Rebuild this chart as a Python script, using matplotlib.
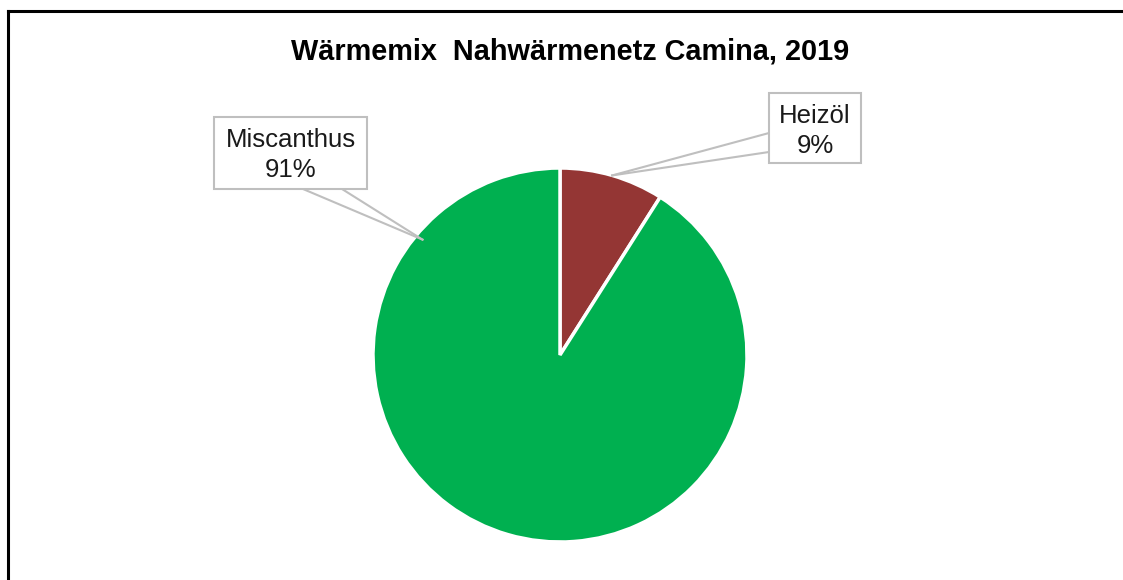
import matplotlib.pyplot as plt
from matplotlib.patches import Rectangle
from matplotlib.lines import Line2D
import numpy as np

plt.rcParams['font.family'] = ['Liberation Sans', 'DejaVu Sans']

# data
labels = ['Heizöl', 'Miscanthus']
values = [9, 91]
colors = ['#943634', '#00B050']
title = 'Wärmemix  Nahwärmenetz Camina, 2019'

W, H = 1123, 580
cx, cy, r = 560, 355, 187   # pie centre and radius in pixels

fig = plt.figure(figsize=(W / 100, H / 100), dpi=100)
ax = fig.add_axes([(cx - r) / W, (H - cy - r) / H, 2 * r / W, 2 * r / H])
wedges, _ = ax.pie(values, colors=colors, startangle=90, counterclock=False,
                   wedgeprops=dict(edgecolor='white', linewidth=2.5))
ax.set_xlim(-1, 1)
ax.set_ylim(-1, 1)
ax.axis('off')


def px(x, y):
    # pixel position -> pie data coords
    return ((x - cx) / r, (cy - y) / r)


def callout(lines, box, base, tip):
    # box = (left, top, right, bottom) in pixels, base = two points on box edge
    x0, y0 = px(box[0], box[3])
    x1, y1 = px(box[2], box[1])
    ax.add_patch(Rectangle((x0, y0), x1 - x0, y1 - y0, facecolor='white',
                           edgecolor='#BFBFBF', linewidth=1.5, clip_on=False, zorder=5))
    for b in base:
        bx, by = px(*b)
        ax.add_line(Line2D([bx, tip[0]], [by, tip[1]], color='#BFBFBF', lw=1.5,
                           clip_on=False, zorder=4))
    xm = (box[0] + box[2]) / 2
    for i, t in enumerate(lines):
        tx, ty = px(xm, box[1] + 30 + 30 * i)
        ax.text(tx, ty, t, ha='center', va='baseline', fontsize=18.5,
                color='#1a1a1a', zorder=6)


# tips from wedge geometry
th_h = np.deg2rad((wedges[0].theta1 + wedges[0].theta2) / 2)
tip_h = (1.0 * np.cos(th_h), 1.0 * np.sin(th_h))
tip_m = (0.96 * np.cos(np.deg2rad(140)), 0.96 * np.sin(np.deg2rad(140)))

callout([labels[0], f'{values[0]}%'], (769, 93, 861, 163), [(769, 133), (769, 152)], tip_h)
callout([labels[1], f'{values[1]}%'], (214, 117, 367, 189), [(303, 189), (342, 189)], tip_m)

fig.text(570 / W, 1 - 60 / H, title, ha='center', va='baseline',
         fontsize=20.8, fontweight='bold', color='black')

# outer frame (top and left only visible)
fig.add_artist(Line2D([8 / W, 8 / W], [0, 1 - 11 / H], transform=fig.transFigure,
                      color='black', lw=2.2))
fig.add_artist(Line2D([8 / W, 1], [1 - 11 / H, 1 - 11 / H], transform=fig.transFigure,
                      color='black', lw=2.2))

fig.savefig('out.png', dpi=100, facecolor='white')
